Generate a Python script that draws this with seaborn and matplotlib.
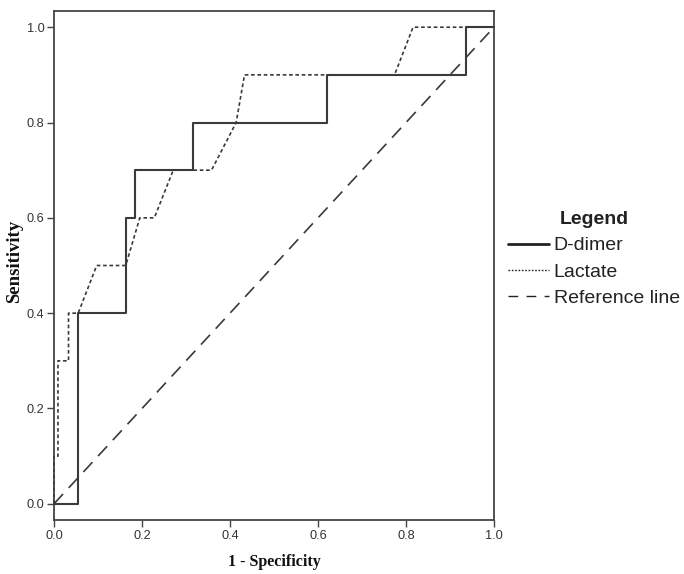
import matplotlib
matplotlib.use("Agg")
import matplotlib.pyplot as plt
import seaborn as sns
import pandas as pd
from matplotlib.lines import Line2D

# Data (ROC curves)
ddimer_fpr = [0.0, 0.055, 0.055, 0.164, 0.164, 0.185, 0.185, 0.315, 0.315, 0.62, 0.62, 0.936, 0.936, 1.0]
ddimer_tpr = [0.0, 0.0, 0.4, 0.4, 0.6, 0.6, 0.7, 0.7, 0.8, 0.8, 0.9, 0.9, 1.0, 1.0]

lactate_fpr = [0.0, 0.0, 0.009, 0.009, 0.033, 0.033, 0.055, 0.097, 0.163, 0.195, 0.228, 0.271,
               0.358, 0.414, 0.433, 0.774, 0.816, 1.0]
lactate_tpr = [0.0, 0.1, 0.1, 0.3, 0.3, 0.4, 0.4, 0.5, 0.5, 0.6, 0.6, 0.7,
               0.7, 0.8, 0.9, 0.9, 1.0, 1.0]

ref_x = [0.0, 1.0]
ref_y = [0.0, 1.0]

ticks = [0.0, 0.2, 0.4, 0.6, 0.8, 1.0]
tick_labels = ["0.0", "0.2", "0.4", "0.6", "0.8", "1.0"]
series_labels = ["D-dimer", "Lactate", "Reference line"]

sns.set_theme(style="white")
plt.rcParams['font.family'] = ['Liberation Sans', 'DejaVu Sans']

fig = plt.figure(figsize=(6.84, 5.74), dpi=100)
ax = fig.add_axes([54 / 684, 1 - 520 / 574, (494 - 54) / 684, (520 - 11) / 574])

line_col = "#3a3a3a"

dd = pd.DataFrame({"x": ddimer_fpr, "y": ddimer_tpr})
la = pd.DataFrame({"x": lactate_fpr, "y": lactate_tpr})
rf = pd.DataFrame({"x": ref_x, "y": ref_y})

sns.lineplot(data=rf, x="x", y="y", sort=False, estimator=None, ax=ax,
             color=line_col, lw=1.2, dashes=False)
ax.lines[-1].set_dashes((8, 5))
sns.lineplot(data=la, x="x", y="y", sort=False, estimator=None, ax=ax,
             color=line_col, lw=1.2)
ax.lines[-1].set_dashes((2.2, 1.6))
sns.lineplot(data=dd, x="x", y="y", sort=False, estimator=None, ax=ax,
             color=line_col, lw=1.5)
for ln in ax.lines:
    ln.set_zorder(5)
    ln.set_clip_on(False)

ax.set_xlim(0, 1)
ax.set_ylim(-0.034, 1.034)
ax.set_xticks(ticks)
ax.set_xticklabels(tick_labels)
ax.set_yticks(ticks)
ax.set_yticklabels(tick_labels)
ax.tick_params(axis="both", which="major", direction="out", length=5, width=1.0,
               color="#444444", labelsize=9.2, labelcolor="#333333", pad=2,
               bottom=True, left=True)
for s in ax.spines.values():
    s.set_color("#444444")
    s.set_linewidth(1.3)
    s.set_visible(True)

lab_font = dict(family=["Liberation Serif", "DejaVu Serif"], fontweight="bold", color="#111111")
ax.set_xlabel("1 - Specificity", labelpad=9, fontsize=11.5, **lab_font)
ax.set_ylabel("Sensitivity", fontsize=13.5, **lab_font)
ax.yaxis.set_label_coords((23 - 54) / 440, (520 - 261) / 509)

handles = [
    Line2D([0], [0], color="#222222", lw=2.0),
    Line2D([0], [0], color="#222222", lw=1.0, dashes=(1.2, 1.2)),
    Line2D([0], [0], color="#222222", lw=1.0, dashes=(7, 6)),
]
leg = fig.legend(handles, series_labels, title="Legend", loc="upper left",
                 bbox_to_anchor=(508 / 684, 1 - 211 / 574), frameon=False,
                 fontsize=14, title_fontsize=14, handlelength=2.1,
                 handletextpad=0.25, labelspacing=0.45, borderpad=0, borderaxespad=0)
leg.get_title().set_fontweight("bold")
leg.get_title().set_color("#222222")
for t in leg.get_texts():
    t.set_color("#222222")

fig.savefig("out.png", dpi=100)
